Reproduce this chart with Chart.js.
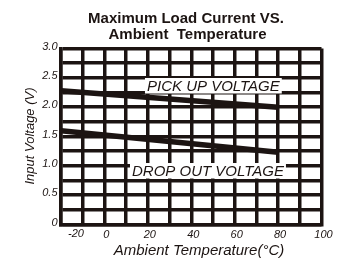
<!DOCTYPE html>
<html><head><meta charset="utf-8">
<script src="https://cdn.jsdelivr.net/npm/chart.js@4/dist/chart.umd.min.js"></script>
<style>html,body{margin:0;padding:0;background:#fff}canvas{display:block}</style>
</head><body>
<canvas id="c" width="348" height="259"></canvas>
<script>
// ---- data ----
const temperatures = [-20, 80];
const pickUpVoltage = [2.28, 2.00];
const dropOutVoltage = [1.60, 1.23];
const xTickValues = [-20, 0, 20, 40, 60, 80, 100];
const xTickLabels = ['-20', '0', '20', '40', '60', '80', '100'];
const yTickValues = [0, 0.5, 1, 1.5, 2, 2.5, 3];
const yTickLabels = ['0', '0.5', '1.0', '1.5', '2.0', '2.5', '3.0'];
const seriesNames = ['PICK UP VOLTAGE', 'DROP OUT VOLTAGE'];
const titleLines = ['Maximum Load Current VS.', 'Ambient  Temperature'];
const xTitle = 'Ambient Temperature(\u00B0C)';
const yTitle = 'Input Voltage (V)';

// ---- styling ----
const INK = '#1c1412';
const FONT = '"Liberation Sans", Arial, Helvetica, sans-serif';
// label anchors (data coords: left edge x, baseline y)
const labelAnchors = [{x: 19.6, y: 2.284}, {x: 12.7, y: 0.835}];

function pts(xs, ys) { return xs.map((x, i) => ({x: x, y: ys[i]})); }
function lookup(vals, labels, v) {
  const i = vals.findIndex(t => Math.abs(t - v) < 1e-6);
  return i >= 0 ? labels[i] : '';
}

const overlay = {
  id: 'overlay',
  afterDatasetsDraw(chart) {
    const ctx = chart.ctx, xs = chart.scales.x, ys = chart.scales.y;
    ctx.save();
    ctx.font = 'italic 15px ' + FONT;
    ctx.textBaseline = 'alphabetic';
    ctx.textAlign = 'left';
    seriesNames.forEach((name, i) => {
      const a = labelAnchors[i];
      const px = xs.getPixelForValue(a.x), py = ys.getPixelForValue(a.y);
      const w = ctx.measureText(name).width;
      ctx.fillStyle = '#fff';
      ctx.fillRect(px - 2, py - 12.5, w + 4, 15.5);
      ctx.fillStyle = INK;
      ctx.fillText(name, px, py);
    });
    ctx.restore();
  },
  afterDraw(chart) {
    const ctx = chart.ctx, xs = chart.scales.x, ca = chart.chartArea;
    ctx.save();
    ctx.fillStyle = INK;
    // title
    ctx.font = 'bold 15px ' + FONT;
    ctx.textAlign = 'center';
    ctx.textBaseline = 'alphabetic';
    ctx.fillText(titleLines[0], 186, 23);
    ctx.fillText(titleLines[1], 187.5, 38.5);
    // first x tick label (offset in the original)
    ctx.font = 'italic 11px ' + FONT;
    ctx.textBaseline = 'top';
    ctx.fillText(xTickLabels[0], xs.getPixelForValue(xTickValues[0]) + 15, ca.bottom + 4);
    // x title
    ctx.font = 'italic 15px ' + FONT;
    ctx.textBaseline = 'alphabetic';
    ctx.fillText(xTitle, 199, 254.5);
    // y title
    ctx.font = 'italic 13px ' + FONT;
    ctx.translate(34, 136);
    ctx.rotate(-Math.PI / 2);
    ctx.fillText(yTitle, 0, 0);
    ctx.restore();
  }
};

new Chart(document.getElementById('c'), {
  type: 'line',
  data: {
    datasets: [
      {label: seriesNames[0], data: pts(temperatures, pickUpVoltage)},
      {label: seriesNames[1], data: pts(temperatures, dropOutVoltage)}
    ].map(d => Object.assign(d, {
      borderColor: INK, borderWidth: 5.5, pointRadius: 0, fill: false,
      tension: 0, borderCapStyle: 'butt'
    }))
  },
  options: {
    responsive: false,
    devicePixelRatio: 1,
    animation: false,
    layout: {padding: {top: 48.5, right: 26.5, left: 0, bottom: 0}},
    plugins: {legend: {display: false}, title: {display: false}, tooltip: {enabled: false}},
    scales: {
      x: {
        type: 'linear', min: -20, max: 100,
        afterFit(s) { s.height = 34.5; },
        grid: {color: INK, lineWidth: 3.5, drawTicks: false},
        border: {color: INK, width: 3.5},
        ticks: {
          stepSize: 10, autoSkip: false, maxRotation: 0, padding: 4, labelOffset: 2,
          color: INK, font: {family: FONT, size: 11, style: 'italic'},
          callback: v => (v === xTickValues[0] ? '' : lookup(xTickValues, xTickLabels, v))
        }
      },
      y: {
        min: 0, max: 3,
        afterFit(s) { s.width = 61; },
        grid: {color: INK, lineWidth: 3.5, drawTicks: false},
        border: {color: INK, width: 3.5},
        ticks: {
          stepSize: 0.25, autoSkip: false, padding: 3.5, labelOffset: -2,
          color: INK, font: {family: FONT, size: 11, style: 'italic'},
          callback: v => lookup(yTickValues, yTickLabels, v)
        }
      }
    }
  },
  plugins: [overlay]
});
</script>
</body></html>
